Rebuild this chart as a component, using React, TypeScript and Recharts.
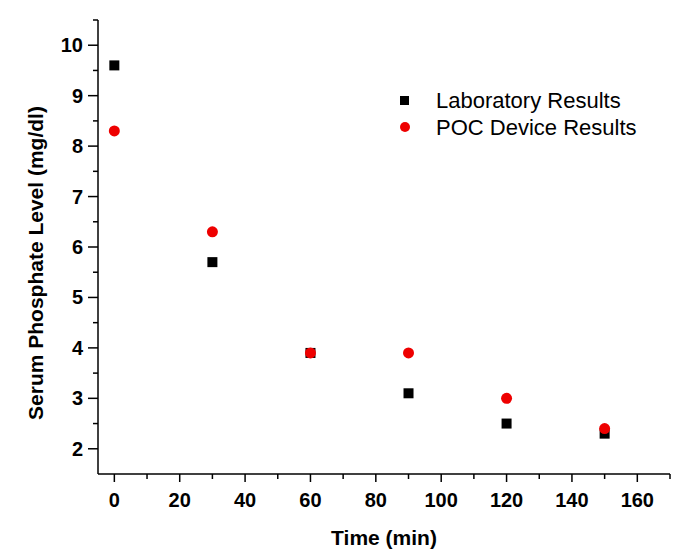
import React from 'react';
import { ScatterChart, Scatter, XAxis, YAxis } from 'recharts';

const times = [0, 30, 60, 90, 120, 150];
const labResults = [9.6, 5.7, 3.9, 3.1, 2.5, 2.3];
const pocResults = [8.3, 6.3, 3.9, 3.9, 3.0, 2.4];
const xTicks = [0, 10, 20, 30, 40, 50, 60, 70, 80, 90, 100, 110, 120, 130, 140, 150, 160, 170];
const xLabelTicks = [0, 20, 40, 60, 80, 100, 120, 140, 160];
const yTicks = [2, 2.5, 3, 3.5, 4, 4.5, 5, 5.5, 6, 6.5, 7, 7.5, 8, 8.5, 9, 9.5, 10, 10.5];
const yLabelTicks = [2, 3, 4, 5, 6, 7, 8, 9, 10];

const labData = times.map((t, i) => ({ x: t, y: labResults[i] }));
const pocData = times.map((t, i) => ({ x: t, y: pocResults[i] }));

const FONT = '"Liberation Sans", Arial, sans-serif';

const Y_TICK_SIZE = 10;
const Y_TICK_MARGIN = 5;
const X_TICK_SIZE = 8;
const X_TICK_MARGIN = 0;

const YTick = (props: any) => {
  const { x, y, payload } = props;
  const axisX = x + Y_TICK_SIZE + Y_TICK_MARGIN;
  const major = yLabelTicks.includes(payload.value);
  return (
    <g>
      <line x1={axisX - (major ? 10 : 5)} x2={axisX} y1={y} y2={y} stroke="#000" strokeWidth={1.5} />
      {major && (
        <text x={x} y={y + 7} textAnchor="end" fontFamily={FONT} fontWeight="bold" fontSize={20} fill="#000">
          {payload.value}
        </text>
      )}
    </g>
  );
};

const XTick = (props: any) => {
  const { x, y, payload } = props;
  const axisY = y - X_TICK_SIZE - X_TICK_MARGIN;
  const major = xLabelTicks.includes(payload.value);
  return (
    <g>
      <line x1={x} x2={x} y1={axisY} y2={axisY + (major ? 8 : 5)} stroke="#000" strokeWidth={1.5} />
      {major && (
        <text x={x} y={axisY + 33} textAnchor="middle" fontFamily={FONT} fontWeight="bold" fontSize={20} fill="#000">
          {payload.value}
        </text>
      )}
    </g>
  );
};

const SquareShape = (props: any) => {
  const { cx, cy } = props;
  return <rect x={cx - 5} y={cy - 5} width={10} height={10} fill="#000" />;
};

const CircleShape = (props: any) => {
  const { cx, cy } = props;
  return <circle cx={cx} cy={cy} r={5.5} fill="#ee0000" />;
};

const XLabel = () => (
  <text x={384} y={545} textAnchor="middle" fontFamily={FONT} fontWeight="bold" fontSize={21} fill="#000">
    Time (min)
  </text>
);

const YLabel = () => (
  <text
    x={43}
    y={263}
    transform="rotate(-90 43 263)"
    textAnchor="middle"
    fontFamily={FONT}
    fontWeight="bold"
    fontSize={21}
    fill="#000"
  >
    Serum Phosphate Level (mg/dl)
  </text>
);

const LegendBlock = () => (
  <g>
    <rect x={400} y={96} width={9} height={9} fill="#000" />
    <text x={436} y={108} fontFamily={FONT} fontSize={22} fill="#000">Laboratory Results</text>
    <circle cx={405} cy={127} r={5} fill="#ee0000" />
    <text x={436} y={135} fontFamily={FONT} fontSize={22} fill="#000">POC Device Results</text>
  </g>
);

export default function App() {
  return (
    <div style={{ position: 'absolute', left: 0, top: 0, width: 681, height: 554, background: '#fff' }}>
      <ScatterChart width={681} height={554} margin={{ top: 20, right: 11, bottom: 0, left: 0 }}>
        <XAxis
          type="number"
          dataKey="x"
          domain={[-5, 170]}
          ticks={xTicks}
          interval={0}
          height={80}
          tickSize={X_TICK_SIZE}
          tickMargin={X_TICK_MARGIN}
          tickLine={false}
          axisLine={{ stroke: '#000', strokeWidth: 1.5 }}
          tick={<XTick />}
          allowDataOverflow
          label={<XLabel />}
        />
        <YAxis
          type="number"
          dataKey="y"
          domain={[1.5, 10.5]}
          ticks={yTicks}
          interval={0}
          width={98}
          tickSize={Y_TICK_SIZE}
          tickMargin={Y_TICK_MARGIN}
          tickLine={false}
          axisLine={{ stroke: '#000', strokeWidth: 1.5 }}
          tick={<YTick />}
          allowDataOverflow
          label={<YLabel />}
        />
        <Scatter data={labData} fill="#000" shape={<SquareShape />} isAnimationActive={false} legendType="square" />
        <Scatter data={pocData} fill="#ee0000" shape={<CircleShape />} isAnimationActive={false} legendType="circle" />
        <LegendBlock />
      </ScatterChart>
    </div>
  );
}
